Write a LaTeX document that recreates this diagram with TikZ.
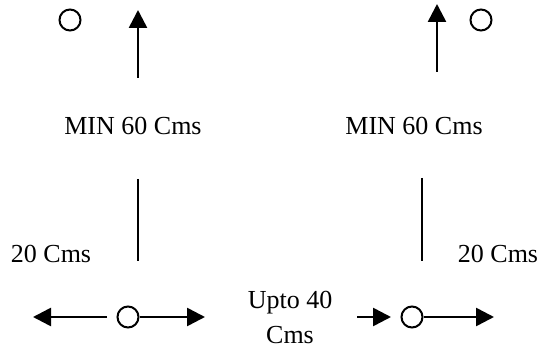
\documentclass[tikz,border=0pt]{standalone}
\usepackage{fontspec}
\setmainfont{Liberation Serif}
\usetikzlibrary{arrows.meta}

\begin{document}
\begin{tikzpicture}[x=0.5pt, y=-0.5pt, font=\fontsize{13}{17.5}\selectfont,
    ring/.style={circle, draw, line width=1pt, minimum size=10.5pt, inner sep=0pt},
    arrow/.style={line width=1.3pt, -{Triangle[length=9pt, width=9pt]}},
    bar/.style={line width=1pt}]
\useasboundingbox (0,0) rectangle (540,352);

% Top left
\node (ringTL) at (70,20) [ring] {};
\coordinate (upL0) at (138,78);
\coordinate (upL1) at (138,10);
\draw [arrow] (upL0) -- (upL1);
\node (minL) at (133,135) [anchor=base] {MIN 60 Cms};

% Top right
\node (ringTR) at (481,20) [ring] {};
\coordinate (upR0) at (437,72);
\coordinate (upR1) at (437,4);
\draw [arrow] (upR0) -- (upR1);
\node (minR) at (414,135) [anchor=base] {MIN 60 Cms};

% Bars
\coordinate (barL0) at (138,179);
\coordinate (barL1) at (138,261);
\draw [bar] (barL0) -- (barL1);
\coordinate (barR0) at (422,178);
\coordinate (barR1) at (422,261);
\draw [bar] (barR0) -- (barR1);
\node (cmsL) at (51,262) [anchor=base] {20 Cms};
\node (cmsR) at (498,262) [anchor=base] {20 Cms};

% Bottom left
\node (ringBL) at (128,317) [ring] {};
\coordinate (outL0) at (107,317);
\coordinate (outL1) at (33,317);
\draw [arrow] (outL0) -- (outL1);
\coordinate (outL2) at (205,317);
\draw [arrow] (ringBL) -- (outL2);

% Gap
\node (upto) at (290,343) [anchor=base, align=center] {Upto 40\\Cms};

% Bottom right
\node (ringBR) at (412,317) [ring] {};
\coordinate (inR0) at (357,317);
\coordinate (inR1) at (391,317);
\draw [arrow] (inR0) -- (inR1);
\coordinate (outR) at (494,317);
\draw [arrow] (ringBR) -- (outR);

\end{tikzpicture}
\end{document}
